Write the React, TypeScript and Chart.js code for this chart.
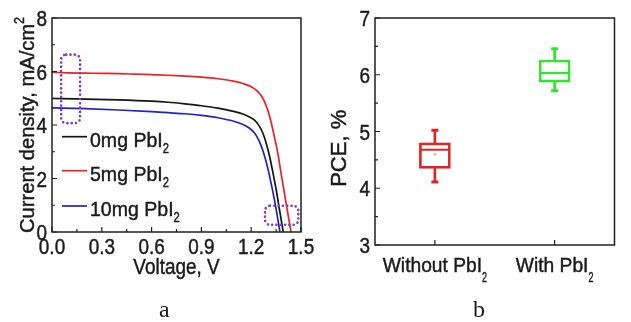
import React, { useEffect, useRef } from 'react';
import { Chart, registerables } from 'chart.js';

Chart.register(...registerables);

// ---------- Panel a data (J–V curves) ----------
const voltage0mg = [0, 0.2, 0.4, 0.6, 0.7, 0.8, 0.9, 1.0, 1.1, 1.15, 1.19, 1.22, 1.25, 1.27, 1.29, 1.31, 1.33, 1.35, 1.37, 1.393];
const current0mg = [4.99, 4.97, 4.94, 4.89, 4.85, 4.79, 4.72, 4.63, 4.5, 4.41, 4.3, 4.18, 3.95, 3.7, 3.33, 2.85, 2.25, 1.6, 0.85, 0];
const voltage5mg = [0, 0.1, 0.2, 0.3, 0.4, 0.5, 0.6, 0.7, 0.8, 0.9, 1.0, 1.1, 1.15, 1.2, 1.24, 1.27, 1.3, 1.32, 1.34, 1.36, 1.38, 1.4, 1.42, 1.44];
const current5mg = [5.97, 5.95, 5.94, 5.93, 5.92, 5.9, 5.88, 5.86, 5.83, 5.79, 5.73, 5.63, 5.55, 5.43, 5.25, 5.0, 4.55, 4.1, 3.55, 2.95, 2.2, 1.45, 0.72, 0];
const voltage10mg = [0, 0.2, 0.4, 0.6, 0.7, 0.8, 0.9, 1.0, 1.1, 1.15, 1.19, 1.22, 1.24, 1.26, 1.28, 1.3, 1.32, 1.34, 1.36, 1.373];
const current10mg = [4.64, 4.61, 4.56, 4.5, 4.46, 4.42, 4.36, 4.27, 4.13, 4.02, 3.88, 3.7, 3.5, 3.22, 2.85, 2.38, 1.82, 1.2, 0.5, 0];
const seriesNames = ['0mg PbI₂', '5mg PbI₂', '10mg PbI₂'];
const seriesColors = ['#141414', '#e3242b', '#2323c4'];
const xTicksA = [0, 0.3, 0.6, 0.9, 1.2, 1.5];
const yTicksA = [0, 2, 4, 6, 8];
const xTitleA = 'Voltage, V';
const yTitleA = 'Current density, mA/cm²';
// highlight boxes in data units: [xMin, xMax, yMin, yMax]
const highlightBox1 = [0.055, 0.169, 4.07, 6.63];
const highlightBox2 = [1.283, 1.484, 0.27, 0.98];

// ---------- Panel b data (PCE box plot) ----------
const categories = ['Without PbI₂', 'With PbI₂'];
const pceMin = [4.11, 5.72];
const pceQ1 = [4.35, 5.87];
const pceMedian = [4.68, 6.03];
const pceQ3 = [4.8, 6.26];
const pceMax = [5.02, 6.46];
const pceMean = [4.6, 6.05];
const boxColors = ['#e02424', '#2fe52f'];
const meanColors = ['rgba(224,36,36,0.35)', 'rgba(47,229,47,0.35)'];
const yTicksB = [3, 4, 5, 6, 7];
const yTitleB = 'PCE, %';

const SANS = '"Liberation Sans", Arial, sans-serif';
const SERIF = '"Liberation Serif", "Times New Roman", serif';
const TEXT = '#1a1a1a';

type Seg = { t: string; size: number; sx: number; dy: number };

function rich(text: string, size: number, sx: number, sub: { size: number; sx: number; dy: number }, sup: { size: number; sx: number; dy: number }): Seg[] {
  const segs: Seg[] = [];
  let buf = '';
  for (const ch of text) {
    if (ch === '₂' || ch === '²') {
      if (buf) segs.push({ t: buf, size, sx, dy: 0 });
      buf = '';
      const s = ch === '₂' ? sub : sup;
      segs.push({ t: '2', size: s.size, sx: s.sx, dy: s.dy });
    } else buf += ch;
  }
  if (buf) segs.push({ t: buf, size, sx, dy: 0 });
  return segs;
}

function drawSegs(ctx: CanvasRenderingContext2D, segs: Seg[], x: number, y: number, align: 'left' | 'center' | 'right', rot = 0, family = SANS, weight = 0.45) {
  ctx.save();
  ctx.fillStyle = TEXT;
  ctx.strokeStyle = TEXT;
  ctx.lineWidth = weight;
  ctx.textAlign = 'left';
  ctx.textBaseline = 'alphabetic';
  const widths = segs.map((s) => {
    ctx.font = `${s.size}px ${family}`;
    return ctx.measureText(s.t).width * s.sx;
  });
  const total = widths.reduce((a, b) => a + b, 0);
  let cur = align === 'left' ? 0 : align === 'center' ? -total / 2 : -total;
  ctx.translate(x, y);
  ctx.rotate(rot);
  segs.forEach((s, i) => {
    ctx.save();
    ctx.translate(cur, s.dy);
    ctx.scale(s.sx, 1);
    ctx.font = `${s.size}px ${family}`;
    ctx.fillText(s.t, 0, 0);
    if (weight > 0) ctx.strokeText(s.t, 0, 0);
    ctx.restore();
    cur += widths[i];
  });
  ctx.restore();
}

function drawFrame(chart: any, xMajor: number[], xMinor: number[], yMajor: number[], yMinor: number[]) {
  const { ctx, chartArea } = chart;
  const { left, right, top, bottom } = chartArea;
  const xs = chart.scales.x;
  const ys = chart.scales.y;
  ctx.save();
  ctx.strokeStyle = '#202020';
  ctx.lineWidth = 1.5;
  ctx.strokeRect(left, top, right - left, bottom - top);
  ctx.lineWidth = 1.2;
  ctx.beginPath();
  xMajor.forEach((v) => { const p = xs.getPixelForValue(v); ctx.moveTo(p, bottom); ctx.lineTo(p, bottom - 5); });
  xMinor.forEach((v) => { const p = xs.getPixelForValue(v); ctx.moveTo(p, bottom); ctx.lineTo(p, bottom - 3); });
  yMajor.forEach((v) => { const p = ys.getPixelForValue(v); ctx.moveTo(left, p); ctx.lineTo(left + 5, p); });
  yMinor.forEach((v) => { const p = ys.getPixelForValue(v); ctx.moveTo(left, p); ctx.lineTo(left + 3, p); });
  ctx.stroke();
  ctx.restore();
}

function roundRectPath(ctx: CanvasRenderingContext2D, x: number, y: number, w: number, h: number, r: number) {
  ctx.beginPath();
  ctx.moveTo(x + r, y);
  ctx.lineTo(x + w - r, y);
  ctx.arcTo(x + w, y, x + w, y + r, r);
  ctx.lineTo(x + w, y + h - r);
  ctx.arcTo(x + w, y + h, x + w - r, y + h, r);
  ctx.lineTo(x + r, y + h);
  ctx.arcTo(x, y + h, x, y + h - r, r);
  ctx.lineTo(x, y + r);
  ctx.arcTo(x, y, x + r, y, r);
  ctx.closePath();
}

const tickSeg = (t: string): Seg[] => [{ t, size: 22, sx: 0.86, dy: 0 }];

const panelAPlugin = {
  id: 'panelA',
  afterDatasetsDraw(chart: any) {
    const ctx: CanvasRenderingContext2D = chart.ctx;
    const xs = chart.scales.x;
    const ys = chart.scales.y;
    ctx.save();
    ctx.strokeStyle = '#7d3fb3';
    ctx.lineWidth = 2.6;
    ctx.lineCap = 'round';
    ctx.setLineDash([0.1, 4.2]);
    [highlightBox1, highlightBox2].forEach((b) => {
      const x0 = xs.getPixelForValue(b[0]);
      const x1 = xs.getPixelForValue(b[1]);
      const y0 = ys.getPixelForValue(b[3]);
      const y1 = ys.getPixelForValue(b[2]);
      roundRectPath(ctx, x0, y0, x1 - x0, y1 - y0, 5);
      ctx.stroke();
    });
    ctx.restore();
  },
  afterDraw(chart: any) {
    const ctx: CanvasRenderingContext2D = chart.ctx;
    const xs = chart.scales.x;
    const ys = chart.scales.y;
    const { left, bottom } = chart.chartArea;
    const xMinor = xTicksA.slice(0, -1).map((v, i) => (v + xTicksA[i + 1]) / 2);
    const yMinor = yTicksA.slice(0, -1).map((v, i) => (v + yTicksA[i + 1]) / 2);
    drawFrame(chart, xTicksA, xMinor, yTicksA, yMinor);
    xTicksA.forEach((v) => drawSegs(ctx, tickSeg(v.toFixed(1)), xs.getPixelForValue(v), bottom + 22, 'center'));
    yTicksA.forEach((v) => drawSegs(ctx, tickSeg(String(v)), left - 5, ys.getPixelForValue(v) + 8, 'right'));
    drawSegs(ctx, [{ t: xTitleA, size: 22, sx: 0.86, dy: 0 }], (chart.chartArea.left + chart.chartArea.right) / 2, 274, 'center');
    drawSegs(ctx, rich(yTitleA, 21, 0.96, { size: 14, sx: 0.9, dy: 6 }, { size: 14, sx: 0.9, dy: -10 }), 33.5, 233, 'left', -Math.PI / 2);
    const rowsY = [136.7, 170.7, 206];
    seriesNames.forEach((name, i) => {
      ctx.save();
      ctx.strokeStyle = seriesColors[i];
      ctx.lineWidth = 1.7;
      ctx.beginPath();
      ctx.moveTo(62, rowsY[i]);
      ctx.lineTo(87, rowsY[i]);
      ctx.stroke();
      ctx.restore();
      drawSegs(ctx, rich(name, 21, 0.93, { size: 15, sx: 0.75, dy: 6 }, { size: 14, sx: 0.9, dy: -10 }), 90, rowsY[i] + 10, 'left');
    });
    drawSegs(ctx, [{ t: 'a', size: 24, sx: 1, dy: 0 }], 164.3, 316.5, 'center', 0, SERIF, 0);
  },
};

const panelBPlugin = {
  id: 'panelB',
  afterDraw(chart: any) {
    const ctx: CanvasRenderingContext2D = chart.ctx;
    const xs = chart.scales.x;
    const ys = chart.scales.y;
    const { left, bottom } = chart.chartArea;
    const yMinor = yTicksB.slice(0, -1).map((v, i) => (v + yTicksB[i + 1]) / 2);
    const xPos = categories.map((_, i) => i);
    drawFrame(chart, xPos, [], yTicksB, yMinor);
    yTicksB.forEach((v) => drawSegs(ctx, tickSeg(String(v)), left - 5, ys.getPixelForValue(v) + 8, 'right'));
    categories.forEach((c, i) => {
      drawSegs(ctx, rich(c, 20, 0.96, { size: 15, sx: 0.6, dy: 10 }, { size: 14, sx: 0.9, dy: -10 }), xs.getPixelForValue(i), bottom + 27, 'center');
    });
    drawSegs(ctx, [{ t: yTitleB, size: 22, sx: 1.0, dy: 0 }], 25.5, 148.3, 'center', -Math.PI / 2);
    drawSegs(ctx, [{ t: 'b', size: 24, sx: 1, dy: 0 }], 159, 316.5, 'center', 0, SERIF, 0);
  },
};

const hiddenAxis = (size: number, isX: boolean) => ({
  grid: { display: false, drawTicks: false },
  border: { display: false },
  ticks: { display: false },
  afterFit: (s: any) => {
    if (isX) s.height = size;
    else s.width = size;
  },
});

export default function App() {
  const refA = useRef<HTMLCanvasElement>(null);
  const refB = useRef<HTMLCanvasElement>(null);

  useEffect(() => {
    const series = [
      { v: voltage0mg, j: current0mg },
      { v: voltage5mg, j: current5mg },
      { v: voltage10mg, j: current10mg },
    ];
    const chartA = new Chart(refA.current as HTMLCanvasElement, {
      type: 'line',
      data: {
        datasets: series.map((s, i) => ({
          label: seriesNames[i],
          data: s.v.map((v, k) => ({ x: v, y: s.j[k] })),
          borderColor: seriesColors[i],
          borderWidth: 1.7,
          pointRadius: 0,
          cubicInterpolationMode: 'monotone' as const,
          fill: false,
        })),
      },
      options: {
        animation: false,
        responsive: false,
        devicePixelRatio: 1,
        layout: { padding: { left: 0, right: 19, top: 18, bottom: 0 } },
        plugins: { legend: { display: false }, tooltip: { enabled: false }, title: { display: false } },
        scales: {
          x: { type: 'linear', min: 0, max: 1.5, ...hiddenAxis(90, true) } as any,
          y: { type: 'linear', min: 0, max: 8, ...hiddenAxis(52, false) } as any,
        },
      },
      plugins: [panelAPlugin],
    });

    const chartB = new Chart(refB.current as HTMLCanvasElement, {
      type: 'bar',
      data: {
        labels: categories,
        datasets: [
          {
            type: 'bar',
            data: categories.map((_, i) => [pceQ1[i], pceQ3[i]]),
            backgroundColor: 'rgba(0,0,0,0)',
            borderColor: boxColors,
            borderWidth: 2,
            borderSkipped: false,
            barThickness: 31,
            grouped: false,
          } as any,
          {
            type: 'bar',
            data: categories.map((_, i) => [pceMin[i], pceQ1[i]]),
            backgroundColor: boxColors,
            borderWidth: 0,
            barThickness: 2,
            grouped: false,
          } as any,
          {
            type: 'bar',
            data: categories.map((_, i) => [pceQ3[i], pceMax[i]]),
            backgroundColor: boxColors,
            borderWidth: 0,
            barThickness: 2,
            grouped: false,
          } as any,
          {
            type: 'line',
            data: categories.map((c, i) => ({ x: c, y: pceMin[i] })).concat(categories.map((c, i) => ({ x: c, y: pceMax[i] }))),
            showLine: false,
            pointStyle: 'line',
            pointRadius: 3.5,
            pointBorderWidth: 3,
            pointBorderColor: boxColors.concat(boxColors),
          } as any,
          {
            type: 'line',
            data: categories.map((c, i) => ({ x: c, y: pceMedian[i] })),
            showLine: false,
            pointStyle: 'line',
            pointRadius: 14.5,
            pointBorderWidth: 2,
            pointBorderColor: boxColors,
          } as any,
          {
            type: 'line',
            data: categories.map((c, i) => ({ x: c, y: pceMean[i] })),
            showLine: false,
            pointStyle: 'circle',
            pointRadius: 1.5,
            pointBorderWidth: 0,
            pointBackgroundColor: meanColors,
          } as any,
        ],
      },
      options: {
        animation: false,
        responsive: false,
        devicePixelRatio: 1,
        layout: { padding: { left: 0, right: 8, top: 18, bottom: 0 } },
        plugins: { legend: { display: false }, tooltip: { enabled: false }, title: { display: false } },
        scales: {
          x: { type: 'category', offset: true, ...hiddenAxis(77, true) } as any,
          y: { type: 'linear', min: 3, max: 7, ...hiddenAxis(55, false) } as any,
        },
      },
      plugins: [panelBPlugin],
    });

    return () => {
      chartA.destroy();
      chartB.destroy();
    };
  }, []);

  return (
    <div style={{ position: 'absolute', left: 0, top: 0, width: 631, height: 322, background: '#fff' }}>
      <canvas ref={refA} width={320} height={322} style={{ position: 'absolute', left: 0, top: 0, width: 320, height: 322 }} />
      <canvas ref={refB} width={311} height={322} style={{ position: 'absolute', left: 320, top: 0, width: 311, height: 322 }} />
    </div>
  );
}
